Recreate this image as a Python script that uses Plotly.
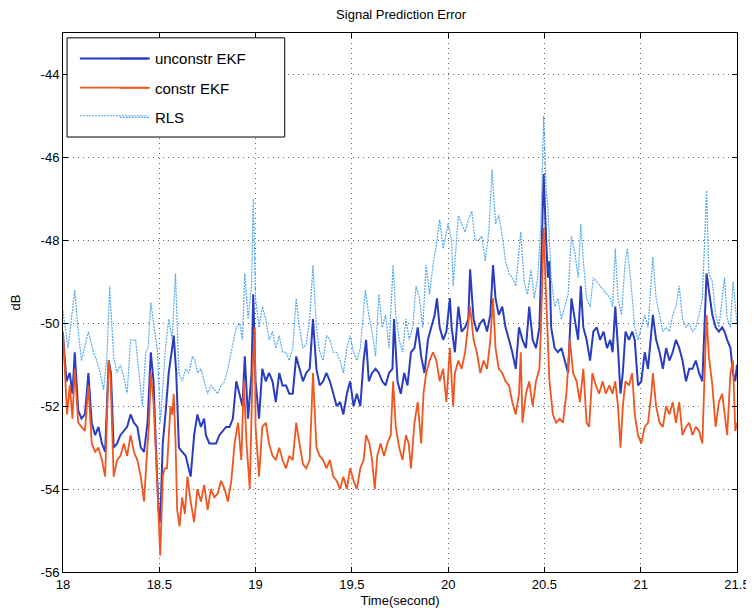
import plotly.graph_objects as go

# ---------------- data ----------------
rls_t = [18.000, 18.026, 18.061, 18.079, 18.096, 18.132, 18.158, 18.175, 18.193, 18.211,
         18.228, 18.242, 18.263, 18.281, 18.298, 18.316, 18.333, 18.351, 18.377, 18.395,
         18.412, 18.430, 18.442, 18.456, 18.474, 18.491, 18.505, 18.532, 18.549, 18.567,
         18.584, 18.602, 18.619, 18.637, 18.654, 18.672, 18.686, 18.698, 18.716, 18.733,
         18.751, 18.768, 18.786, 18.804, 18.821, 18.839, 18.856, 18.874, 18.900, 18.918,
         18.932, 18.944, 18.961, 18.979, 18.988, 19.000, 19.018, 19.035, 19.053, 19.070,
         19.088, 19.105, 19.123, 19.140, 19.158, 19.175, 19.193, 19.211, 19.228, 19.246,
         19.263, 19.281, 19.298, 19.316, 19.333, 19.351, 19.368, 19.386, 19.404, 19.421,
         19.439, 19.456, 19.474, 19.491, 19.509, 19.526, 19.544, 19.570, 19.588, 19.605,
         19.623, 19.640, 19.658, 19.675, 19.693, 19.714, 19.728, 19.746, 19.763, 19.781,
         19.798, 19.816, 19.833, 19.851, 19.868, 19.886, 19.904, 19.921, 19.939, 19.956,
         19.974, 20.000, 20.018, 20.026, 20.044, 20.053, 20.070, 20.088, 20.105, 20.123,
         20.140, 20.158, 20.175, 20.193, 20.211, 20.228, 20.246, 20.263, 20.281, 20.298,
         20.316, 20.333, 20.351, 20.368, 20.377, 20.395, 20.412, 20.430, 20.447, 20.465,
         20.482, 20.496, 20.509, 20.518, 20.535, 20.553, 20.570, 20.588, 20.605, 20.623,
         20.640, 20.658, 20.675, 20.689, 20.702, 20.719, 20.737, 20.754, 20.772, 20.789,
         20.807, 20.825, 20.842, 20.854, 20.868, 20.882, 20.900, 20.918, 20.930, 20.947,
         20.969, 20.986, 21.003, 21.021, 21.038, 21.055, 21.063, 21.080, 21.098, 21.115,
         21.132, 21.149, 21.166, 21.183, 21.200, 21.217, 21.235, 21.252, 21.269, 21.286,
         21.303, 21.320, 21.332, 21.342, 21.354, 21.372, 21.389, 21.406, 21.423, 21.435,
         21.449, 21.466, 21.479, 21.491, 21.500]
rls_db = [-49.7, -50.6, -49.2, -50.2, -50.9, -50.2, -50.7, -50.9, -51.2, -51.6,
          -50.8, -49.1, -50.8, -51.2, -51.0, -51.3, -51.7, -50.4, -50.4, -51.2,
          -52.0, -50.7, -50.6, -49.5, -50.1, -50.7, -52.4, -50.6, -49.9, -50.4,
          -48.8, -51.2, -51.4, -51.1, -51.2, -50.8, -50.9, -51.2, -51.1, -51.4,
          -51.7, -51.5, -51.6, -51.7, -51.5, -51.4, -51.1, -50.7, -50.1, -50.0,
          -50.4, -48.8, -49.9, -49.1, -47.0, -49.4, -50.1, -49.6, -49.9, -50.4,
          -50.2, -50.6, -50.3, -50.7, -50.7, -50.9, -50.6, -49.4, -50.1, -50.6,
          -50.5, -49.9, -48.6, -50.1, -50.7, -50.9, -50.3, -50.4, -50.7, -50.7,
          -50.9, -51.2, -50.6, -50.3, -50.7, -50.9, -50.6, -49.2, -49.8, -50.2,
          -50.8, -49.3, -50.1, -49.8, -50.6, -48.6, -49.8, -50.4, -50.7, -49.9,
          -50.4, -50.1, -49.1, -49.4, -50.1, -48.6, -49.3, -48.6, -48.1, -47.5,
          -48.2, -47.6, -48.0, -49.1, -48.0, -47.4, -47.6, -47.8, -47.5, -47.3,
          -48.0, -48.0, -47.9, -48.5, -47.8, -46.3, -47.6, -47.4, -47.9, -48.5,
          -48.8, -48.9, -49.1, -48.3, -47.8, -49.0, -49.3, -48.7, -49.4, -48.9,
          -47.6, -45.0, -46.8, -47.2, -48.9, -49.6, -49.4, -49.9, -49.6, -49.3,
          -47.9, -48.3, -48.9, -47.6, -48.5, -49.4, -49.6, -48.9, -49.0, -49.1,
          -49.2, -49.3, -49.4, -49.6, -48.2, -49.4, -49.8, -48.6, -48.2, -48.9,
          -50.1, -50.4, -50.1, -49.8, -50.1, -48.8, -48.4, -49.4, -49.8, -50.2,
          -50.1, -50.2, -49.8, -49.6, -49.1, -49.9, -50.1, -50.0, -50.2, -50.1,
          -49.8, -49.4, -48.0, -46.8, -48.8, -49.0, -49.8, -50.1, -49.4, -48.9,
          -49.9, -50.1, -49.0, -49.6, -50.0]

unc_t = [18.000, 18.018, 18.035, 18.049, 18.061, 18.079, 18.096, 18.114, 18.132, 18.149,
         18.167, 18.184, 18.202, 18.219, 18.237, 18.249, 18.263, 18.281, 18.298, 18.316,
         18.333, 18.351, 18.368, 18.386, 18.404, 18.421, 18.439, 18.456, 18.470, 18.482,
         18.496, 18.505, 18.518, 18.532, 18.549, 18.567, 18.575, 18.588, 18.602, 18.619,
         18.637, 18.663, 18.681, 18.698, 18.716, 18.733, 18.742, 18.760, 18.777, 18.795,
         18.812, 18.830, 18.847, 18.865, 18.882, 18.900, 18.918, 18.932, 18.944, 18.961,
         18.979, 18.988, 19.000, 19.018, 19.035, 19.053, 19.070, 19.088, 19.105, 19.123,
         19.140, 19.158, 19.175, 19.193, 19.211, 19.228, 19.246, 19.263, 19.281, 19.298,
         19.316, 19.333, 19.351, 19.368, 19.386, 19.404, 19.421, 19.439, 19.456, 19.474,
         19.491, 19.509, 19.526, 19.544, 19.561, 19.574, 19.588, 19.605, 19.623, 19.640,
         19.658, 19.675, 19.693, 19.711, 19.719, 19.737, 19.754, 19.772, 19.789, 19.807,
         19.825, 19.842, 19.860, 19.877, 19.895, 19.912, 19.930, 19.942, 19.956, 19.974,
         19.991, 20.000, 20.009, 20.018, 20.035, 20.053, 20.070, 20.088, 20.105, 20.114,
         20.132, 20.149, 20.167, 20.184, 20.202, 20.219, 20.233, 20.246, 20.263, 20.281,
         20.298, 20.316, 20.333, 20.351, 20.368, 20.386, 20.404, 20.421, 20.439, 20.456,
         20.474, 20.482, 20.496, 20.509, 20.518, 20.526, 20.535, 20.553, 20.570, 20.588,
         20.605, 20.623, 20.640, 20.658, 20.675, 20.689, 20.702, 20.719, 20.737, 20.754,
         20.772, 20.789, 20.807, 20.825, 20.842, 20.854, 20.868, 20.882, 20.895, 20.907,
         20.921, 20.939, 20.956, 20.969, 20.986, 21.003, 21.021, 21.038, 21.055, 21.063,
         21.080, 21.098, 21.115, 21.132, 21.149, 21.166, 21.183, 21.200, 21.217, 21.235,
         21.252, 21.269, 21.286, 21.303, 21.320, 21.332, 21.342, 21.354, 21.372, 21.389,
         21.406, 21.423, 21.435, 21.449, 21.466, 21.479, 21.491, 21.500]
unc_db = [-50.3, -51.4, -51.2, -51.7, -50.7, -52.1, -52.3, -52.2, -51.2, -52.4,
          -52.7, -52.5, -52.9, -53.1, -50.9, -51.2, -53.0, -52.9, -52.7, -52.6,
          -52.5, -52.2, -52.4, -52.5, -53.0, -53.1, -52.4, -50.7, -51.4, -52.9,
          -54.5, -54.8, -52.9, -52.2, -51.2, -50.6, -50.3, -51.2, -53.0, -53.1,
          -53.2, -53.7, -52.7, -52.2, -52.5, -52.3, -52.7, -52.9, -52.9, -52.9,
          -52.7, -52.6, -52.5, -52.5, -52.3, -51.4, -51.7, -52.0, -50.8, -52.3,
          -51.2, -49.3, -51.4, -52.3, -51.1, -51.4, -51.2, -51.4, -51.9, -51.2,
          -51.5, -51.5, -51.7, -51.7, -50.8, -51.1, -51.4, -51.2, -51.1, -49.9,
          -51.1, -51.5, -51.4, -51.2, -51.4, -51.7, -52.0, -51.9, -52.2, -51.7,
          -51.4, -52.0, -51.7, -52.0, -50.9, -50.4, -51.4, -51.2, -51.1, -51.2,
          -51.4, -51.5, -51.2, -51.1, -49.9, -51.4, -51.7, -51.2, -51.5, -50.7,
          -50.6, -50.1, -50.8, -51.2, -50.4, -50.1, -49.8, -49.4, -50.1, -50.4,
          -50.2, -49.8, -49.4, -50.1, -50.7, -49.6, -50.2, -50.1, -49.9, -48.7,
          -49.9, -50.2, -50.0, -49.9, -50.2, -49.8, -48.6, -49.4, -49.8, -49.6,
          -50.1, -50.4, -50.7, -51.1, -50.1, -50.4, -50.6, -49.6, -50.4, -50.6,
          -50.1, -48.8, -46.4, -48.0, -48.9, -48.5, -50.1, -50.6, -50.7, -50.6,
          -50.9, -51.2, -49.4, -49.9, -50.4, -49.1, -50.1, -50.4, -50.9, -50.2,
          -50.1, -50.4, -50.2, -50.6, -50.4, -50.7, -49.6, -50.6, -51.7, -51.2,
          -50.2, -50.4, -50.2, -50.4, -51.5, -51.4, -50.7, -51.1, -50.1, -49.8,
          -50.4, -50.7, -51.1, -50.6, -50.9, -50.7, -50.4, -50.6, -50.9, -51.4,
          -51.1, -51.1, -50.9, -51.2, -51.4, -50.1, -48.8, -49.2, -49.8, -50.1,
          -50.2, -50.1, -50.2, -50.4, -50.6, -51.2, -51.4, -51.0]

con_t = [18.000, 18.009, 18.021, 18.035, 18.049, 18.061, 18.079, 18.096, 18.114, 18.132,
         18.149, 18.167, 18.184, 18.202, 18.219, 18.237, 18.246, 18.263, 18.281, 18.298,
         18.316, 18.333, 18.351, 18.368, 18.386, 18.404, 18.421, 18.435, 18.447, 18.456,
         18.470, 18.482, 18.496, 18.505, 18.518, 18.528, 18.540, 18.549, 18.558, 18.567,
         18.575, 18.584, 18.593, 18.605, 18.619, 18.633, 18.646, 18.663, 18.681, 18.698,
         18.716, 18.733, 18.751, 18.768, 18.786, 18.804, 18.821, 18.839, 18.856, 18.874,
         18.891, 18.909, 18.926, 18.939, 18.953, 18.970, 18.984, 18.996, 19.000, 19.018,
         19.035, 19.053, 19.070, 19.088, 19.105, 19.123, 19.140, 19.158, 19.175, 19.193,
         19.211, 19.228, 19.246, 19.263, 19.281, 19.298, 19.316, 19.333, 19.351, 19.368,
         19.386, 19.404, 19.421, 19.439, 19.456, 19.474, 19.491, 19.509, 19.526, 19.544,
         19.561, 19.574, 19.591, 19.605, 19.619, 19.632, 19.649, 19.667, 19.684, 19.702,
         19.714, 19.728, 19.746, 19.763, 19.781, 19.795, 19.807, 19.825, 19.842, 19.860,
         19.872, 19.886, 19.904, 19.921, 19.939, 19.956, 19.974, 19.991, 20.000, 20.009,
         20.026, 20.035, 20.053, 20.070, 20.088, 20.105, 20.114, 20.132, 20.149, 20.167,
         20.184, 20.202, 20.219, 20.233, 20.246, 20.263, 20.281, 20.298, 20.316, 20.333,
         20.351, 20.368, 20.377, 20.386, 20.404, 20.421, 20.439, 20.456, 20.474, 20.482,
         20.496, 20.509, 20.518, 20.526, 20.544, 20.561, 20.579, 20.596, 20.614, 20.632,
         20.649, 20.667, 20.684, 20.702, 20.719, 20.732, 20.749, 20.767, 20.784, 20.802,
         20.819, 20.837, 20.854, 20.868, 20.882, 20.895, 20.907, 20.921, 20.939, 20.956,
         20.969, 20.986, 21.003, 21.021, 21.038, 21.055, 21.063, 21.080, 21.098, 21.115,
         21.132, 21.149, 21.166, 21.183, 21.200, 21.217, 21.235, 21.252, 21.269, 21.286,
         21.303, 21.320, 21.332, 21.342, 21.354, 21.372, 21.389, 21.406, 21.423, 21.435,
         21.449, 21.466, 21.479, 21.491, 21.500]
con_db = [-50.2, -51.1, -52.2, -51.5, -52.3, -51.1, -52.4, -52.5, -52.6, -51.5,
          -52.9, -53.1, -53.0, -53.3, -53.7, -50.9, -51.2, -53.7, -53.3, -53.2,
          -52.9, -53.2, -52.7, -53.1, -53.3, -53.7, -54.3, -53.2, -52.4, -51.2,
          -51.9, -53.1, -54.9, -55.6, -53.7, -53.5, -53.5, -52.7, -52.0, -52.2,
          -51.7, -52.8, -54.5, -54.9, -54.2, -54.6, -53.7, -54.3, -54.8, -54.0,
          -54.3, -53.9, -54.5, -54.0, -54.2, -54.1, -53.8, -54.0, -54.3, -53.8,
          -52.9, -52.4, -53.3, -51.4, -52.9, -54.0, -51.2, -50.1, -52.5, -53.7,
          -52.5, -52.4, -52.9, -53.2, -53.3, -53.0, -53.3, -53.5, -53.2, -53.3,
          -52.4, -52.9, -53.4, -53.5, -53.3, -51.2, -53.0, -53.2, -53.3, -53.5,
          -53.3, -53.7, -53.8, -54.0, -53.7, -54.0, -53.5, -53.8, -54.0, -53.5,
          -53.3, -52.7, -52.9, -53.3, -54.0, -53.2, -52.9, -53.2, -52.9, -52.7,
          -51.4, -52.5, -53.0, -53.3, -52.7, -52.9, -53.5, -52.4, -51.9, -52.9,
          -51.7, -51.2, -50.9, -50.7, -50.9, -51.4, -51.1, -51.9, -51.1, -50.6,
          -52.0, -51.2, -50.9, -51.1, -50.7, -49.9, -49.6, -50.4, -50.7, -51.2,
          -50.9, -51.1, -50.4, -49.4, -50.6, -51.1, -51.2, -51.4, -51.5, -51.9,
          -52.2, -51.7, -50.7, -52.4, -51.7, -51.4, -52.0, -51.4, -51.1, -50.1,
          -47.7, -49.4, -50.4, -51.4, -52.2, -52.4, -52.3, -52.4, -51.7, -50.4,
          -51.2, -51.4, -51.9, -51.1, -52.4, -52.5, -51.2, -51.5, -51.7, -51.4,
          -51.7, -51.5, -51.7, -51.4, -52.0, -53.0, -52.0, -51.4, -51.5, -51.2,
          -52.2, -52.7, -52.9, -52.5, -52.4, -51.7, -51.2, -52.0, -52.4, -52.5,
          -52.0, -52.2, -51.9, -52.4, -51.9, -52.7, -52.5, -52.4, -52.7, -52.5,
          -52.6, -52.9, -51.2, -49.8, -50.8, -51.5, -52.5, -51.9, -51.7, -52.2,
          -52.7, -51.2, -50.9, -52.6, -52.4]

series_names = ["unconstr EKF", "constr EKF", "RLS"]
x_ticks = [18, 18.5, 19, 19.5, 20, 20.5, 21, 21.5]
y_ticks = [-56, -54, -52, -50, -48, -46, -44]
y_tick_text = ["-56", "-54", "-52", "-50", "-48", "-46", "-44"]

# ---------------- styles ----------------
FONT = "Liberation Sans, Arial, Helvetica, sans-serif"
COL_UNC, COL_CON, COL_RLS = "#2a3dc0", "#f0561f", "#55a8f2"
W_UNC, W_CON, W_RLS = 2.0, 1.8, 1.2
DASH_RLS = "2px,1px"

fig = go.Figure()
fig.add_trace(go.Scatter(x=unc_t, y=unc_db, mode="lines", name=series_names[0],
                         legendgroup="a", line=dict(color=COL_UNC, width=W_UNC)))
fig.add_trace(go.Scatter(x=con_t, y=con_db, mode="lines", name=series_names[1],
                         legendgroup="b", line=dict(color=COL_CON, width=W_CON)))
fig.add_trace(go.Scatter(x=rls_t, y=rls_db, mode="lines", name=series_names[2],
                         legendgroup="c", line=dict(color=COL_RLS, width=W_RLS, dash=DASH_RLS)))

axis_common = dict(showline=True, linecolor="black", linewidth=1, mirror="ticks",
                   ticks="inside", ticklen=5, tickcolor="black",
                   showgrid=True, gridcolor="#666666", griddash="1px,4px", gridwidth=1,
                   zeroline=False, automargin=False,
                   tickfont=dict(family=FONT, size=13, color="black"))

# legend frame (box) and longer legend line samples, in paper coordinates
shapes = [dict(type="rect", xref="paper", yref="paper", x0=0.006, x1=0.329,
               y0=0.807, y1=0.991, fillcolor="white", line=dict(color="black", width=1),
               layer="above")]
sample_rows = [(0.9525, COL_UNC, W_UNC, "solid"), (0.8985, COL_CON, W_CON, "solid"),
               (0.8465, COL_RLS, W_RLS, DASH_RLS)]
for yy, c, w, d in sample_rows:
    shapes.append(dict(type="line", xref="paper", yref="paper", x0=0.025, x1=0.125,
                       y0=yy, y1=yy, line=dict(color=c, width=w, dash=d), layer="above"))

fig.update_layout(
    width=746, height=600,
    margin=dict(l=55, r=17, t=25, b=36),
    paper_bgcolor="white", plot_bgcolor="white",
    title=dict(text="Signal Prediction Error", x=0.527, xanchor="center",
               y=0.99, yanchor="middle",
               font=dict(family=FONT, size=13, color="black")),
    xaxis=dict(range=[18, 21.5], tickvals=x_ticks,
               title=dict(text="Time(second)",
                          font=dict(family=FONT, size=13, color="black")),
               **axis_common),
    yaxis=dict(range=[-56, -43], tickvals=y_ticks, ticktext=y_tick_text,
               title=dict(text="dB", standoff=18,
                          font=dict(family=FONT, size=13, color="black")),
               **axis_common),
    legend=dict(x=0.077, y=0.983, xanchor="left", yanchor="top",
                bgcolor="rgba(0,0,0,0)", borderwidth=0,
                font=dict(family=FONT, size=15, color="black"),
                tracegroupgap=7, itemwidth=30),
    shapes=shapes,
    showlegend=True,
)

fig.write_html("out.html")
